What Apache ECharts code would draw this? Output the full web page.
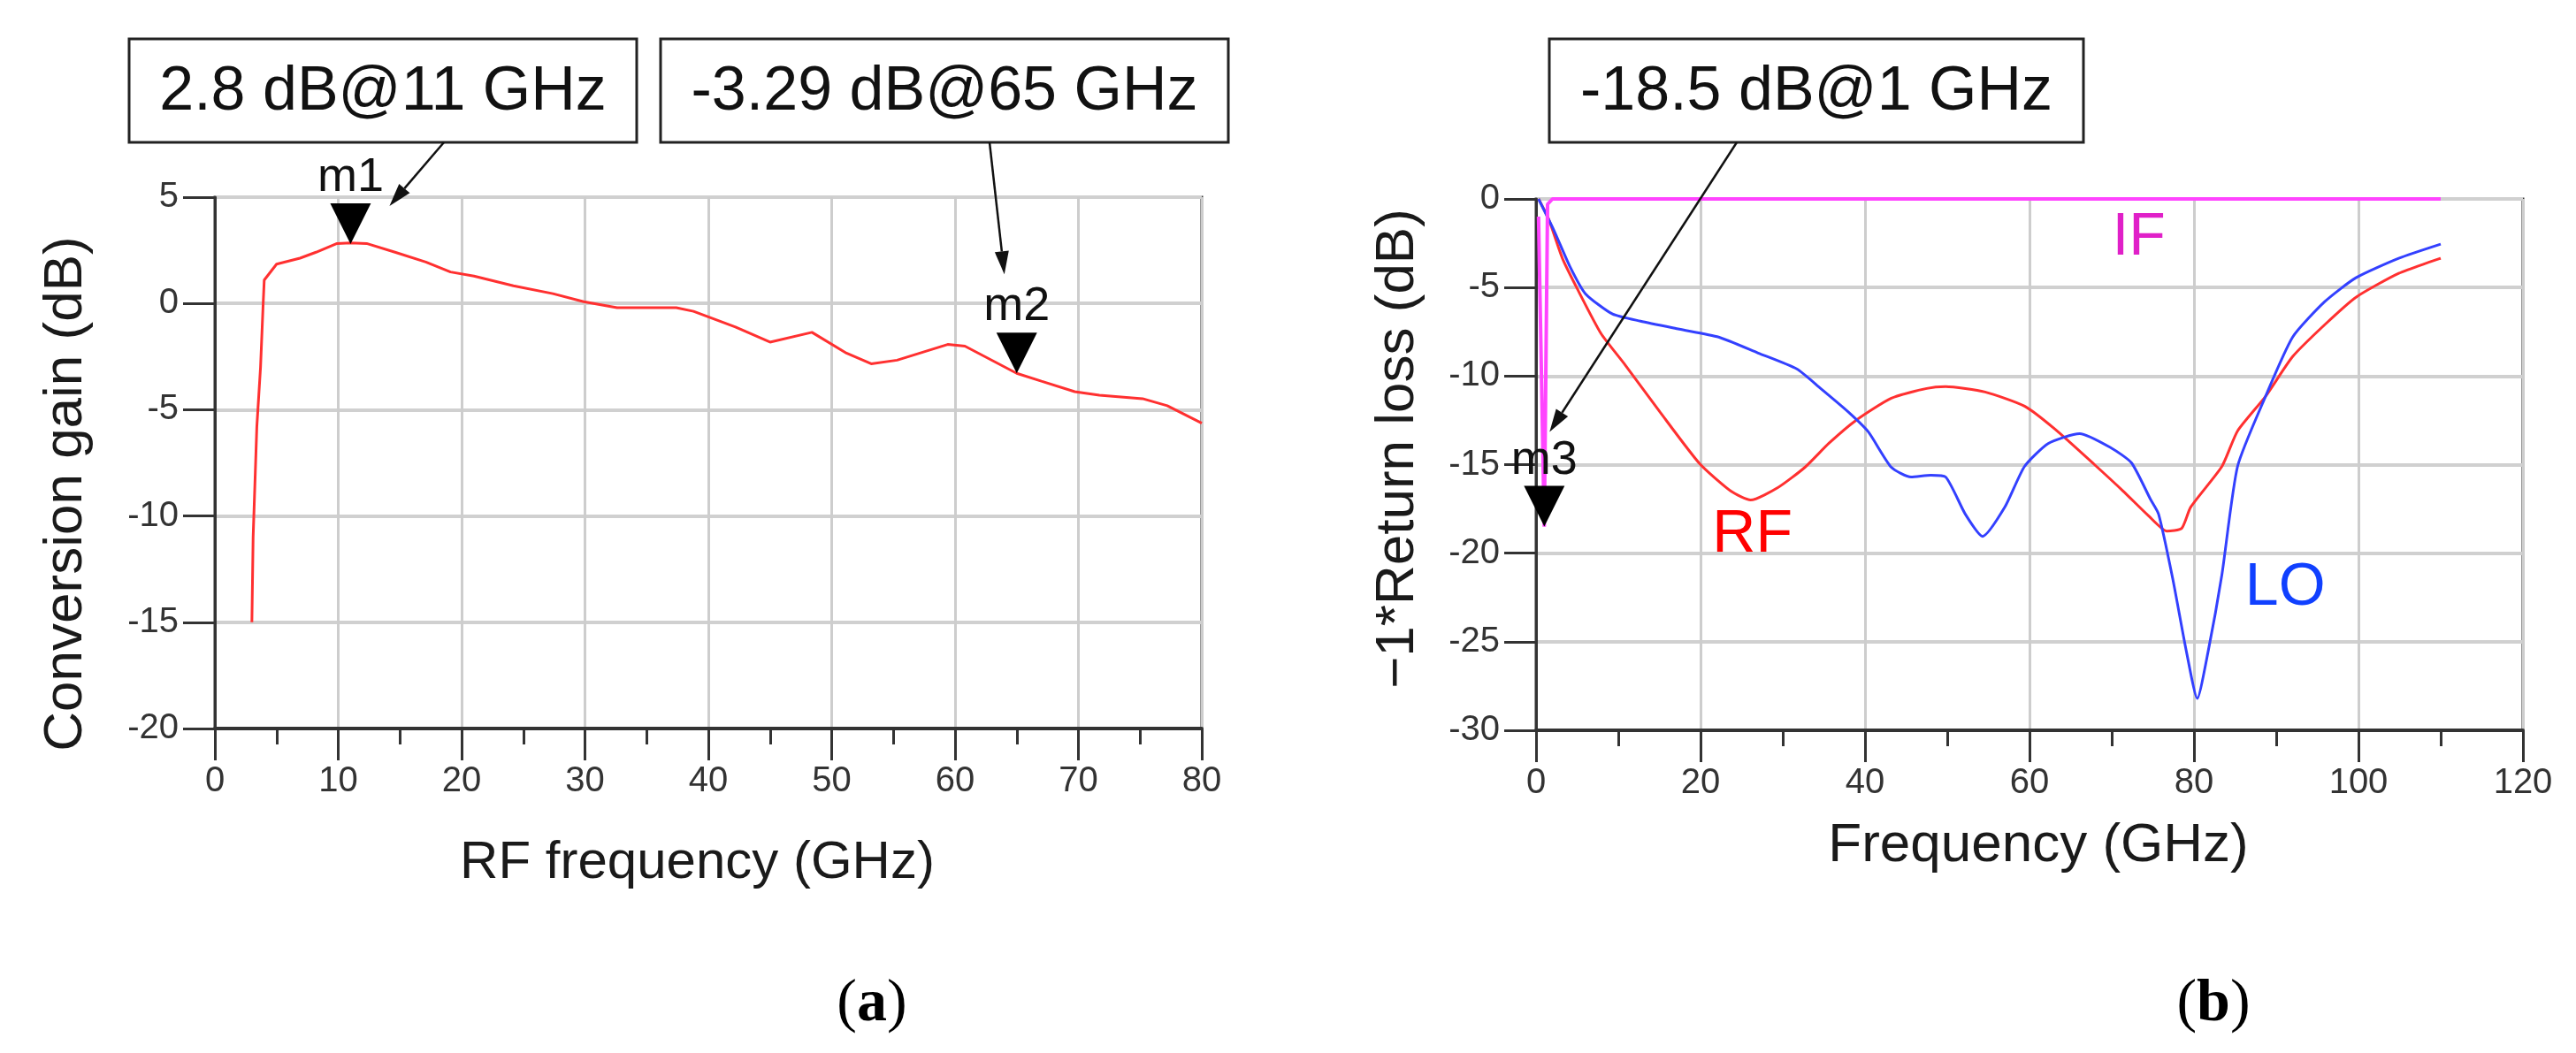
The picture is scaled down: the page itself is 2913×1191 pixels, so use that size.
<!DOCTYPE html>
<html>
<head>
<meta charset="utf-8">
<script src="https://cdn.jsdelivr.net/npm/echarts@6/dist/echarts.min.js"></script>
<style>
  html, body { margin: 0; padding: 0; background: #fff; }
  #chart { width: 2913px; height: 1191px; }
</style>
</head>
<body>
<div id="chart"></div>
<script>
const FONT = '"Liberation Sans", Arial, sans-serif';

// (a) conversion gain vs RF frequency
const cgFreq = [3, 3.1, 3.4, 3.7, 3.9, 4.0, 5, 6.9, 8.2, 9.9, 11, 12.3, 14.6, 17.1, 19.1, 21, 24.2, 27.4, 29.9,
  32.6, 37.4, 38.8, 42.2, 45, 48.4, 51.2, 53.2, 55.3, 59.4, 60.8, 65, 67, 69.7, 71.7, 75.2, 77.2, 80];
const cgGain = [-15, -11, -5.8, -3, -0.2, 1.1, 1.85, 2.13, 2.41, 2.82, 2.85, 2.82, 2.41, 1.95, 1.48, 1.29, 0.83, 0.46, 0.08,
  -0.2, -0.2, -0.37, -1.11, -1.82, -1.36, -2.34, -2.84, -2.67, -1.93, -2.01, -3.29, -3.66, -4.15, -4.32, -4.48, -4.81, -5.63];

// (b) -1*return loss of the three ports
const rfFreq = [0.3, 1.5, 3.2, 5.1, 7.9, 10.8, 15.1, 19.9, 23.7, 26.1, 29.4, 32.7, 35.6, 38.9, 43.2, 47.5, 49.8,
  54.6, 59.4, 63.1, 67.9, 71.4, 74.5, 76.7, 78.5, 79.6, 83.4, 85.3, 88.7, 92, 95.9, 99.7, 104.9, 110];
const rfLoss = [0, -1.1, -3.35, -5.15, -7.6, -9.35, -12.05, -14.95, -16.5, -17.0, -16.3, -15.15, -13.8, -12.5, -11.25, -10.7, -10.6,
  -10.9, -11.7, -13.0, -15.0, -16.5, -17.9, -18.75, -18.6, -17.4, -15.1, -13.1, -11.15, -8.9, -7.1, -5.55, -4.2, -3.35];

const loFreq = [0.3, 2.2, 4.1, 6.0, 9.3, 12.7, 17.4, 22.2, 27, 31.7, 34.6, 37.9, 40.4, 43.2, 45.6, 48, 49.8, 52.2, 54.3,
  57, 59.4, 62.3, 66.1, 69.9, 72.4, 74.7, 75.7, 77.4, 79.1, 80.4, 81.7, 83.4, 85.3, 88.7, 92, 95.9, 99.7, 104.9, 110];
const loLoss = [0, -1.8, -3.8, -5.35, -6.5, -6.9, -7.35, -7.8, -8.7, -9.6, -10.7, -12.0, -13.15, -15.15, -15.7, -15.6, -15.7, -17.8, -19.05,
  -17.4, -15.1, -13.8, -13.25, -14.05, -14.9, -16.95, -17.8, -21.4, -25.6, -28.2, -25.6, -21.2, -15.1, -11.15, -7.8, -5.8, -4.45, -3.35, -2.55];

const ifFreq = [0.3, 1, 1.4, 2, 110];
const ifLoss = [-1, -18.5, -0.3, 0, 0];

// markers m1..m3
const markerName = ['m1', 'm2', 'm3'];
const markerFreq = [11, 65, 1];
const markerValue = [2.8, -3.29, -18.5];
const markerGrid = [0, 0, 1];

// trace names written inside (b)
const traceLabel = ['IF', 'RF', 'LO'];
const traceLabelFreq = [73.3, 26.3, 91.1];
const traceLabelValue = [-2.2, -19.0, -22.0];

const xTicksA = { max: 80, interval: 10 };
const xTicksB = { max: 120, interval: 20 };
const yTicksA = { min: -20, max: 5 };
const yTicksB = { min: -30, max: 0 };

const pairs = ( xs, ys ) => xs.map( ( x, i ) => [ x, ys[ i ] ] );

const TRIANGLE = 'path://M0,0L10,0L5,10Z';

function markerItem( i ) {
	return {
		name: markerName[ i ],
		coord: [ markerFreq[ i ], markerValue[ i ] ],
		symbol: TRIANGLE,
		symbolSize: [ 46, 46 ],
		symbolOffset: [ 0, '-50%' ],
		itemStyle: { color: '#000' },
		label: {
			show: true, position: 'top', distance: 2, formatter: '{b}',
			fontFamily: FONT, fontSize: 54, color: '#111'
		}
	};
}

function traceLabelItem( i, color ) {
	return {
		name: traceLabel[ i ],
		coord: [ traceLabelFreq[ i ], traceLabelValue[ i ] ],
		symbol: 'circle',
		symbolSize: 0,
		label: {
			show: true, position: 'inside', formatter: '{b}',
			fontFamily: FONT, fontSize: 68, color: color
		}
	};
}

function xAxisFor( gridIndex, ticks, name, nameGap, fontSize, padding ) {
	return {
		type: 'value', gridIndex: gridIndex, min: 0, max: ticks.max, interval: ticks.interval,
		name: name, nameLocation: 'middle', nameGap: nameGap,
		nameTextStyle: { fontFamily: FONT, fontSize: fontSize, color: '#1a1a1a', padding: padding },
		axisLine: { show: true, onZero: false, lineStyle: { color: '#333', width: 4 } },
		axisTick: { show: true, length: 36, lineStyle: { color: '#333', width: 3 } },
		minorTick: { show: true, splitNumber: 2, length: 18, lineStyle: { color: '#333', width: 3 } },
		axisLabel: { fontFamily: FONT, fontSize: 40, color: '#333', margin: 40 },
		splitLine: { show: true, lineStyle: { color: '#cdcdcd', width: 3 } }
	};
}

function yAxisFor( gridIndex, ticks, name, nameGap, padding ) {
	return {
		type: 'value', gridIndex: gridIndex, min: ticks.min, max: ticks.max, interval: 5,
		name: name, nameLocation: 'middle', nameGap: nameGap, nameRotate: 90,
		nameTextStyle: { fontFamily: FONT, fontSize: 62, color: '#1a1a1a', padding: padding },
		axisLine: { show: true, onZero: false, lineStyle: { color: '#333', width: 3 } },
		axisTick: { show: true, length: 36, lineStyle: { color: '#333', width: 3 } },
		axisLabel: { fontFamily: FONT, fontSize: 40, color: '#333', margin: 41 },
		splitLine: { show: true, lineStyle: { color: '#d0d0d0', width: 4 } }
	};
}

function lineSeries( xAxisIndex, data, color, width, smooth, markData ) {
	return {
		type: 'line', xAxisIndex: xAxisIndex, yAxisIndex: xAxisIndex,
		data: data, showSymbol: false, symbol: 'none', animation: false,
		smooth: smooth,
		lineStyle: { color: color, width: width },
		markPoint: { animation: false, data: markData }
	};
}

const chart = echarts.init( document.getElementById( 'chart' ) );

chart.setOption( {
	animation: false,
	backgroundColor: '#fff',
	grid: [
		{ left: 243, top: 223, width: 1116, height: 601, show: true, borderColor: '#333', borderWidth: 3 },
		{ left: 1737, top: 225, width: 1116, height: 601, show: true, borderColor: '#333', borderWidth: 3 }
	],
	xAxis: [
		xAxisFor( 0, xTicksA, 'RF frequency (GHz)', 122, 60, [ 0, 25, 0, 0 ] ),
		xAxisFor( 1, xTicksB, 'Frequency (GHz)', 100, 62, [ 0, 0, 0, 20 ] )
	],
	yAxis: [
		yAxisFor( 0, yTicksA, 'Conversion gain (dB)', 137, [ 0, 70, 0, 0 ] ),
		yAxisFor( 1, yTicksB, '\u22121*Return loss (dB)', 125, [ 0, 0, 0, 36 ] )
	],
	series: [
		lineSeries( 0, pairs( cgFreq, cgGain ), '#ff3030', 3, false, [ markerItem( 0 ), markerItem( 1 ) ] ),
		lineSeries( 1, pairs( rfFreq, rfLoss ), '#ff3030', 3, 0.2, [ traceLabelItem( 1, '#ff0000' ) ] ),
		lineSeries( 1, pairs( loFreq, loLoss ), '#3340ff', 3, 0.2, [ traceLabelItem( 2, '#1040ff' ) ] ),
		lineSeries( 1, pairs( ifFreq, ifLoss ), '#ff44ff', 4, false, [ markerItem( 2 ), traceLabelItem( 0, '#e020c8' ) ] )
	]
} );

// callout boxes with arrows pointing at the markers
const callouts = [
	{ box: [ 146, 44, 574, 117 ], from: [ 502, 161 ], tipOffset: [ 44, -43 ] },
	{ box: [ 747, 44, 642, 117 ], from: [ 1119, 161 ], tipOffset: [ -14, -112 ] },
	{ box: [ 1752, 44, 604, 117 ], from: [ 1964, 161 ], tipOffset: [ 6, -107 ] }
];

function arrow( from, to ) {
	const dx = to[ 0 ] - from[ 0 ];
	const dy = to[ 1 ] - from[ 1 ];
	const len = Math.hypot( dx, dy );
	const ux = dx / len;
	const uy = dy / len;
	const head = 26;
	const half = 8;
	const bx = to[ 0 ] - ux * head;
	const by = to[ 1 ] - uy * head;
	return [
		{ type: 'line', z: 20, shape: { x1: from[ 0 ], y1: from[ 1 ], x2: bx, y2: by }, style: { stroke: '#111', lineWidth: 2.5 } },
		{ type: 'polygon', z: 20, shape: { points: [ to, [ bx - uy * half, by + ux * half ], [ bx + uy * half, by - ux * half ] ] }, style: { fill: '#111' } }
	];
}

const graphics = [];
callouts.forEach( ( c, i ) => {
	const [ x, y, w, h ] = c.box;
	graphics.push( {
		type: 'rect', z: 20, shape: { x: x, y: y, width: w, height: h },
		style: { fill: '#fff', stroke: '#222', lineWidth: 3 }
	} );
	graphics.push( {
		type: 'text', z: 21, x: x + w / 2, y: y + h / 2 + 2,
		style: {
			text: `${ markerValue[ i ] } dB@${ markerFreq[ i ] } GHz`,
			fontFamily: FONT, fontSize: 70, fill: '#111', align: 'center', verticalAlign: 'middle'
		}
	} );
	const p = chart.convertToPixel( { gridIndex: markerGrid[ i ] }, [ markerFreq[ i ], markerValue[ i ] ] );
	graphics.push( ...arrow( c.from, [ p[ 0 ] + c.tipOffset[ 0 ], p[ 1 ] + c.tipOffset[ 1 ] ] ) );
} );

// sub-figure captions
[ [ 'a', 986 ], [ 'b', 2503 ] ].forEach( ( [ letter, cx ] ) => {
	graphics.push( {
		type: 'text', x: cx, y: 1136,
		style: {
			text: `{p|(}{l|${ letter }}{p|)}`,
			align: 'center', verticalAlign: 'middle',
			rich: {
				p: { fontFamily: '"Liberation Serif", serif', fontSize: 68, fill: '#000' },
				l: { fontFamily: '"Liberation Serif", serif', fontSize: 68, fontWeight: 'bold', fill: '#000' }
			}
		}
	} );
} );

chart.setOption( { graphic: graphics } );
</script>
</body>
</html>
